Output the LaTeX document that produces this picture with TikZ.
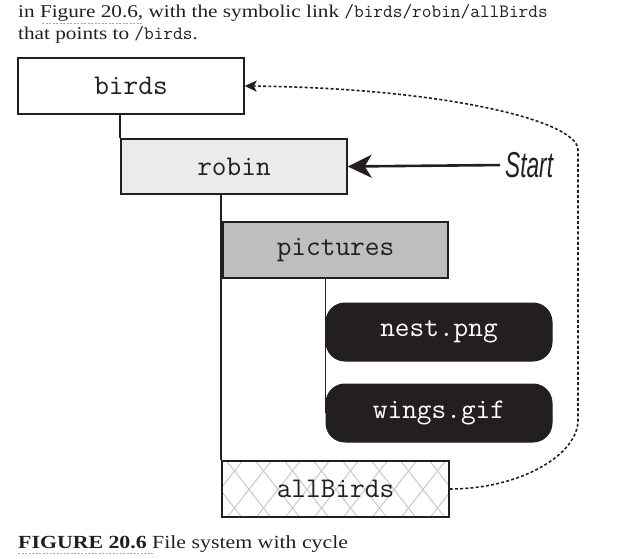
\documentclass[tikz,border=0pt]{standalone}
\usepackage{fontspec}
\setmainfont{Liberation Serif}[FakeStretch=1.18]
\newfontfamily\startf{Liberation Sans}
\usetikzlibrary{arrows.meta}
\pgfdeclarelayer{background}
\pgfsetlayers{background,main}
\definecolor{ink}{HTML}{231F20}
\definecolor{robinfill}{HTML}{EBEBEB}
\definecolor{picfill}{HTML}{BDBEC0}
\definecolor{hatch}{HTML}{C8C8C8}
\definecolor{linkline}{HTML}{A8A8A8}
\tikzset{
  dirbox/.style={draw=ink, line width=1.4pt, minimum height=56pt, minimum width=226pt,
    inner sep=0pt, text=ink, font=\ttfamily\fontsize{28.5}{28.5}\selectfont},
  filebox/.style={draw=ink, fill=ink, rounded corners=19pt, line width=1pt, minimum height=58pt,
    minimum width=226pt, inner sep=0pt, text=white, font=\ttfamily\fontsize{28.5}{28.5}\selectfont},
  treeline/.style={draw=ink, line width=1.8pt},
  linkstyle/.style={draw=ink, line width=1.6pt, dash pattern=on 3pt off 2.2pt},
  bodytext/.style={anchor=base west, inner sep=0pt, text=ink, font=\fontsize{18}{18}\selectfont},
  linkunder/.style={draw=linkline, line width=0.8pt, dash pattern=on 2pt off 1.5pt}
}
\begin{document}
\begin{tikzpicture}[x=1pt,y=-1pt]
\useasboundingbox (0,0) rectangle (621,559);
% header text
\node[bodytext] (line1) at (18,18) {in Figure 20.6, with the symbolic link {\ttfamily\fontsize{18.8}{18.8}\selectfont /birds/robin/allBirds}};
\node[bodytext] (line2) at (18,40) {that points to {\ttfamily\fontsize{18.8}{18.8}\selectfont /birds}.};
\coordinate (u1a) at (42,23); \coordinate (u1b) at (142,23);
\draw[linkunder] (u1a) -- (u1b);
% boxes
\node[dirbox, fill=white] (birds) at (131,86) {birds};
\node[dirbox, fill=robinfill, minimum height=55pt] (robin) at (234,166.5) {robin};
\node[dirbox, fill=picfill, minimum width=225pt] (pictures) at (335.5,250) {pictures};
\node[filebox] (nest) at (439,332) {nest.png};
\node[filebox] (wings) at (439,413) {wings.gif};
\node[dirbox, minimum width=227pt, draw=none] (allBirds) at (335.5,489) {};
\begin{scope}
  \clip (allBirds.south west) rectangle (allBirds.north east);
  \foreach \c in {162,191,...,510} {
    \draw[hatch, line width=1pt] (\c-21.5,462) -- (\c+21.5,517);
    \draw[hatch, line width=1pt] (\c+21.5,462) -- (\c-21.5,517);
  }
\end{scope}
\node[dirbox, minimum width=227pt] (allBirdsLabel) at (allBirds) {allBirds};
% tree connectors
\begin{pgfonlayer}{background}
  \draw[treeline] (birds.south -| robin.west) -- (robin.north west);
  \draw[treeline] (robin.south -| allBirds.west) -- (allBirds.north west);
  \draw[treeline] (pictures.south -| nest.west) -- (wings.west);
\end{pgfonlayer}
% start arrow
\node[anchor=west, inner sep=0pt, text=ink, font=\startf\itshape\fontsize{36}{36}\selectfont] (start) at (505,165) {\scalebox{0.63}[1]{Start}};
\draw[ink, line width=2.6pt, shorten <=5pt, -{Stealth[length=24pt,width=23pt,inset=7pt]}] (start.west) -- (robin.east);
% symbolic link
\coordinate (c1) at (578,420);
\coordinate (c2) at (578,150);
\draw[linkstyle, -{Stealth[length=12pt,width=11pt,inset=3pt]}] (allBirdsLabel.east) .. controls (520,489) and (578,455) .. (c1) -- (c2) .. controls (578,120) and (440,88) .. (birds.east);
% caption
\node[bodytext, font=\fontsize{18.5}{18.5}\selectfont] (caption) at (18,548) {\textbf{FIGURE 20.6} File system with cycle};
\coordinate (u2a) at (18,553); \coordinate (u2b) at (154,553);
\draw[linkunder] (u2a) -- (u2b);
\end{tikzpicture}
\end{document}
